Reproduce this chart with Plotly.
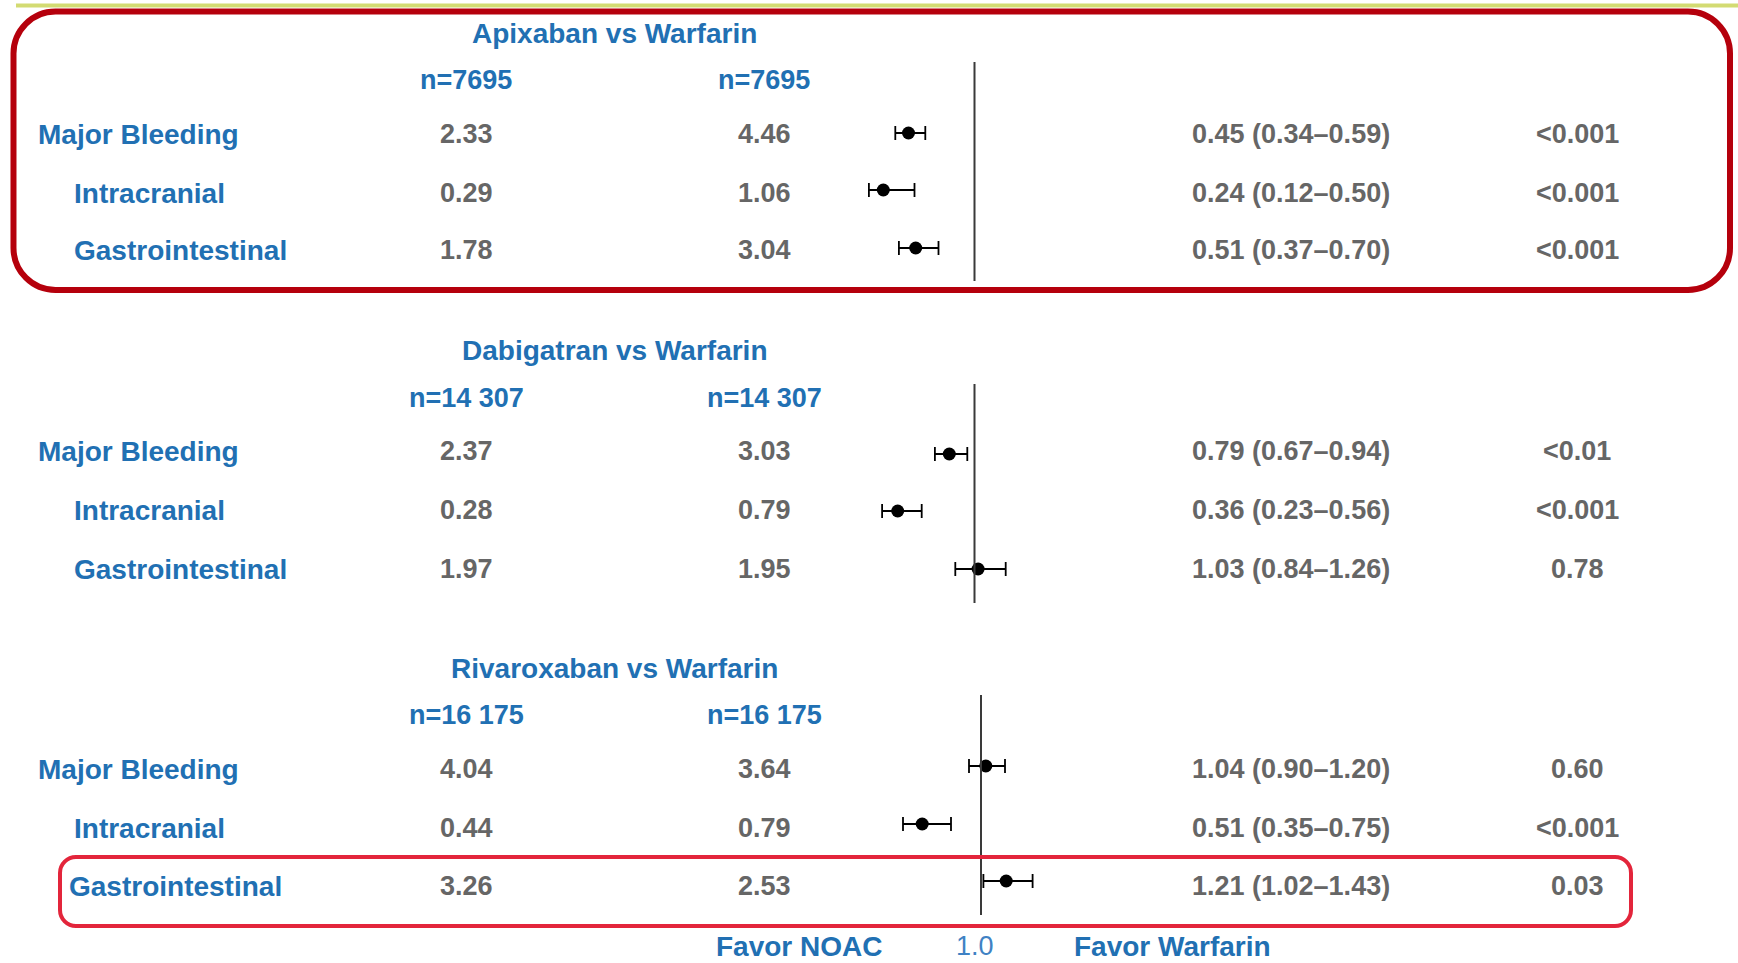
import plotly.graph_objects as go

# ---- data -------------------------------------------------------------
comparisons = ["Apixaban vs Warfarin", "Dabigatran vs Warfarin", "Rivaroxaban vs Warfarin"]
n_noac = ["n=7695", "n=14 307", "n=16 175"]
n_warfarin = ["n=7695", "n=14 307", "n=16 175"]
outcomes = ["Major Bleeding", "Intracranial", "Gastrointestinal"]

rate_noac = [
    [2.33, 0.29, 1.78],
    [2.37, 0.28, 1.97],
    [4.04, 0.44, 3.26],
]
rate_warfarin = [
    [4.46, 1.06, 3.04],
    [3.03, 0.79, 1.95],
    [3.64, 0.79, 2.53],
]
hazard_ratio = [
    [0.45, 0.24, 0.51],
    [0.79, 0.36, 1.03],
    [1.04, 0.51, 1.21],
]
ci_low = [
    [0.34, 0.12, 0.37],
    [0.67, 0.23, 0.84],
    [0.90, 0.35, 1.02],
]
ci_high = [
    [0.59, 0.50, 0.70],
    [0.94, 0.56, 1.26],
    [1.20, 0.75, 1.43],
]
p_values = [
    ["<0.001", "<0.001", "<0.001"],
    ["<0.01", "<0.001", "0.78"],
    ["0.60", "<0.001", "0.03"],
]
reference_hr = 1.0
footer_left = "Favor NOAC"
footer_right = "Favor Warfarin"

# ---- layout constants (page pixels) ------------------------------------
W, H = 1738, 963
BLUE = "#2170b3"
GRAY = "#666666"
FONT = "Liberation Sans, Arial, sans-serif"

title_y = [33, 350, 668]
n_y = [80, 398, 715]
row_y = [[134, 193, 250], [451, 510, 569], [769, 828, 886]]
dot_y = [[133, 190, 248], [454, 511, 569], [766, 824, 881]]
ref_line_span = [(62, 281), (384, 603), (695, 915)]
label_x = [[37, 73, 73], [37, 73, 73], [37, 73, 68]]
footer_y = 946

title_cx = 614
col1_cx = 466
col2_cx = 764
hr_cx = 1291
p_cx = 1577

# forest axis placement: pixel of HR=1 and pixels per HR unit
ref_px = [974.5, 974.5, 981.0]
px_per_unit = 120.0
hr_range = [0.0, 2.0]


def domain_for(ref):
    x0 = ref + (hr_range[0] - reference_hr) * px_per_unit
    x1 = ref + (hr_range[1] - reference_hr) * px_per_unit
    return [x0 / W, x1 / W]


fig = go.Figure()

axis_for_panel = ["x", "x", "x2"]

# forest markers with confidence intervals
for p in range(3):
    hr = hazard_ratio[p]
    fig.add_trace(go.Scatter(
        x=hr,
        y=dot_y[p],
        mode="markers",
        xaxis=axis_for_panel[p],
        yaxis="y",
        marker=dict(size=13, color="black"),
        error_x=dict(
            type="data",
            symmetric=False,
            array=[u - h for u, h in zip(ci_high[p], hr)],
            arrayminus=[h - l for h, l in zip(hr, ci_low[p])],
            color="black",
            thickness=1.8,
            width=7,
        ),
        showlegend=False,
        hoverinfo="skip",
    ))

shapes = []
annotations = []


def txt(x, y, s, color=BLUE, size=28, weight="bold", anchor="center", xref="x3"):
    annotations.append(dict(
        x=x, y=y, xref=xref, yref="y", text=s, showarrow=False,
        xanchor=anchor, yanchor="middle", borderpad=0,
        font=dict(family=FONT, size=size, color=color, weight=weight),
    ))


for p in range(3):
    txt(title_cx, title_y[p], comparisons[p])
    txt(col1_cx, n_y[p], n_noac[p], size=27)
    txt(col2_cx, n_y[p], n_warfarin[p], size=27)
    for r in range(3):
        y = row_y[p][r]
        txt(label_x[p][r], y, outcomes[r], anchor="left")
        txt(col1_cx, y, f"{rate_noac[p][r]:.2f}", color=GRAY, size=27)
        txt(col2_cx, y, f"{rate_warfarin[p][r]:.2f}", color=GRAY, size=27)
        hr_text = f"{hazard_ratio[p][r]:.2f} ({ci_low[p][r]:.2f}\u2013{ci_high[p][r]:.2f})"
        txt(hr_cx, y, hr_text, color=GRAY, size=27)
        txt(p_cx, y, p_values[p][r], color=GRAY, size=27)
    # line of no effect
    y0, y1 = ref_line_span[p]
    shapes.append(dict(
        type="line", xref=axis_for_panel[p], yref="y",
        x0=reference_hr, x1=reference_hr, y0=y0, y1=y1,
        line=dict(color="#3a3a3a", width=2),
    ))

# footer
txt(799, footer_y, footer_left)
txt(reference_hr, footer_y, f"{reference_hr:.1f}", color="#3f82c4", size=27,
    weight="normal", xref="x")
txt(1172, footer_y, footer_right)


def rounded_rect(x0, y0, x1, y1, r):
    k = 0.5523 * r
    return (
        f"M {x0 + r},{y0} H {x1 - r} "
        f"C {x1 - r + k},{y0} {x1},{y0 + r - k} {x1},{y0 + r} "
        f"V {y1 - r} "
        f"C {x1},{y1 - r + k} {x1 - r + k},{y1} {x1 - r},{y1} "
        f"H {x0 + r} "
        f"C {x0 + r - k},{y1} {x0},{y1 - r + k} {x0},{y1 - r} "
        f"V {y0 + r} "
        f"C {x0},{y0 + r - k} {x0 + r - k},{y0} {x0 + r},{y0} Z"
    )


# thin accent rule at the very top
shapes.append(dict(type="line", xref="x3", yref="y", x0=16, x1=W, y0=5.5, y1=5.5,
                   line=dict(color="#d3db72", width=4)))
# highlight frames
shapes.append(dict(type="path", xref="x3", yref="y",
                   path=rounded_rect(13.5, 11.5, 1730, 290, 42),
                   line=dict(color="#b5000c", width=6)))
shapes.append(dict(type="path", xref="x3", yref="y",
                   path=rounded_rect(60, 857, 1631, 926, 16),
                   line=dict(color="#e3253b", width=4)))

hidden = dict(visible=False, showgrid=False, zeroline=False, fixedrange=True)

fig.update_layout(
    width=W, height=H,
    margin=dict(l=0, r=0, t=0, b=0, pad=0),
    paper_bgcolor="white",
    plot_bgcolor="rgba(0,0,0,0)",
    showlegend=False,
    xaxis=dict(domain=domain_for(ref_px[0]), range=hr_range, anchor="y", **hidden),
    xaxis2=dict(domain=domain_for(ref_px[2]), range=hr_range, anchor="y", **hidden),
    xaxis3=dict(domain=[0, 1], range=[0, W], anchor="y", **hidden),
    yaxis=dict(domain=[0, 1], range=[H, 0], **hidden),
    shapes=shapes,
    annotations=annotations,
)

fig.write_html("out.html")
